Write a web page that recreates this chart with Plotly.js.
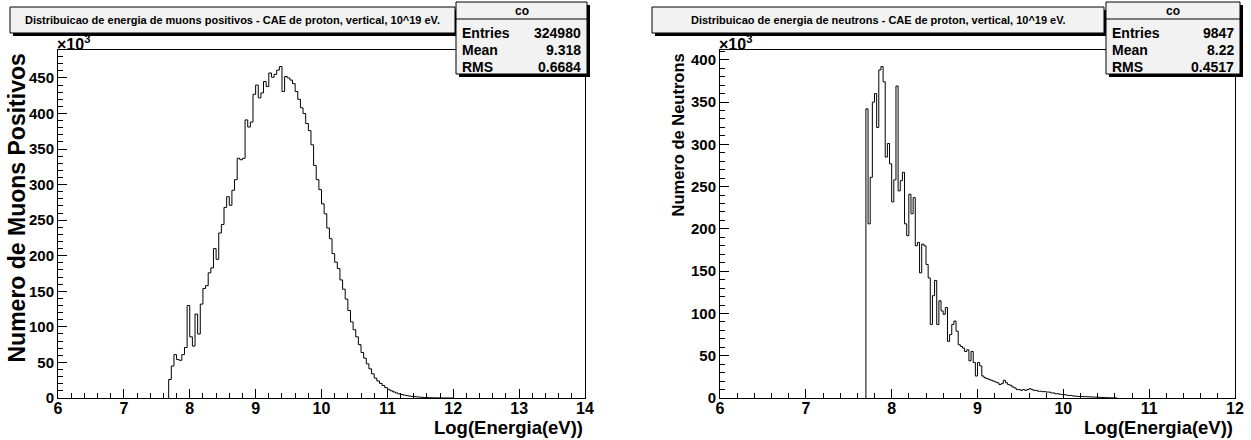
<!DOCTYPE html>
<html><head><meta charset="utf-8">
<script src="https://cdn.plot.ly/plotly-3.0.1.min.js"></script>
<style>html,body{margin:0;padding:0;background:#fff}#chart{width:1251px;height:440px}</style>
</head><body><div id="chart"></div>
<script>
// ---------- data ----------
const muonTitle = "Distribuicao de energia de muons positivos - CAE de proton, vertical, 10^19 eV.";
const neutronTitle = "Distribuicao de energia de neutrons - CAE de proton, vertical, 10^19 eV.";
const xTitle = "Log(Energia(eV))";
const muonYTitle = "Numero de Muons Positivos";
const neutronYTitle = "Numero de Neutrons";
const statsName = "co";
const statsLabels = ["Entries", "Mean", "RMS"];
const muonStats = ["324980", "9.318", "0.6684"];
const neutronStats = ["9847", "8.22", "0.4517"];

// muons: bins starting at 7.68, width 0.04 (values in units of 10^3)
const muonStart = 7.68;
const muonBinWidth = 0.04;
const muonCounts = [26,45,61,54,53,61,71,130,86,73,118,90,132,154,158,176,183,210,195,232,
  244,268,283,271,292,307,337,335,337,391,381,388,427,440,422,429,445,438,457,451,
  455,461,466,431,452,450,447,442,431,420,408,400,386,376,356,327,307,293,273,259,
  239,224,203,191,182,166,153,139,123,107,96,86,75,64,56,48,41,34,28,24,
  20.5,17.6,14.6,12.2,10.2,8.6,7.1,5.9,4.9,4.0,3.3,2.7,2.2,1.8,1.5,1.2,0.9,0.7,0.55,0.4,
  0.3,0.22,0.16,0.12,0.08,0.05,0.03,0.02];

// neutrons: bins starting at 7.70, width 0.025 (values in units of 10^3)
const neutronStart = 7.70;
const neutronBinWidth = 0.025;
const neutronCounts = [342,206,261,350,360,320,388,392,374,285,301,277,232,258,369,245,257,267,206,192,
  241,218,237,180,184,148,182,180,158,142,87,121,139,87,115,103,99,107,67,75,
  87,91,79,63,61,59,55,57,44,55,42,26,42,38,26,24,23,22,21,20,
  19,18,16,17,21,18,16,15,13,12,10,10,9,10,9,10,11,10,9,9,
  8,8,7.5,7.5,7,7,6,6,5,5,4.5,4,4,3.5,3,3,2.5,2.2,2,1.8,
  1.8,1.6,1.6,1.4,1.3,1.2,1.1,1,0.8,0.8,0.6,0.5,0.4,0.3,0.2,0.15,0.1];

const muonXRange = [6, 14];
const neutronXRange = [6, 12];

// ---------- helpers ----------
function steps(start, width, counts) {
  const x = [start], y = [0];
  for (let i = 0; i < counts.length; i++) {
    x.push(+(start + i * width).toFixed(4)); y.push(counts[i]);
  }
  const end = +(start + counts.length * width).toFixed(4);
  x.push(end); y.push(counts[counts.length - 1]);
  x.push(end); y.push(0);
  return {x, y};
}
const W = 1251, H = 440;
const px = v => v / W, py = v => 1 - v / H;
const FONT = "Liberation Sans, Arial, Helvetica, sans-serif";
const bold = (size) => ({family: FONT, size: size, color: '#000', weight: 'bold'});

const muonStep = steps(muonStart, muonBinWidth, muonCounts);
const neutronStep = steps(neutronStart, neutronBinWidth, neutronCounts);
const muonYMax = Math.max(...muonCounts) * 1.05;
const neutronYMax = Math.max(...neutronCounts) * 1.05;

const traces = [
  {type: 'scatter', mode: 'lines', x: muonStep.x, y: muonStep.y, xaxis: 'x', yaxis: 'y',
   line: {shape: 'hv', color: '#000', width: 1}, hoverinfo: 'skip', showlegend: false},
  {type: 'scatter', mode: 'lines', x: neutronStep.x, y: neutronStep.y, xaxis: 'x2', yaxis: 'y2',
   line: {shape: 'hv', color: '#000', width: 1}, hoverinfo: 'skip', showlegend: false}
];

function axis(extra) {
  return Object.assign({
    showline: true, linecolor: '#000', linewidth: 1, mirror: true,
    ticks: 'inside', ticklen: 9, tickcolor: '#000', tickwidth: 1,
    showgrid: false, zeroline: false, fixedrange: true,
    tickfont: bold(16)
  }, extra);
}
const minorX = {ticks: 'inside', ticklen: 5, dtick: 0.2, tickcolor: '#000', tickwidth: 1, showgrid: false};
const minorY = {ticks: 'inside', ticklen: 5, dtick: 10, tickcolor: '#000', tickwidth: 1, showgrid: false};

const frames = [
  {l: 58, r: 585, t: 50, b: 398},
  {l: 720, r: 1235, t: 50, b: 398}
];

const layout = {
  width: W, height: H, margin: {l: 0, r: 0, t: 0, b: 0},
  paper_bgcolor: '#fff', plot_bgcolor: '#fff', showlegend: false,
  xaxis: axis({domain: [px(frames[0].l), px(frames[0].r)], range: muonXRange, tick0: 6, dtick: 1, minor: minorX, anchor: 'y', ticklabelstandoff: -4}),
  yaxis: axis({domain: [py(frames[0].b), py(frames[0].t)], range: [0, muonYMax], tick0: 0, dtick: 50, minor: minorY, anchor: 'x', ticklabelstandoff: 0, tickfont: bold(15)}),
  xaxis2: axis({domain: [px(frames[1].l), px(frames[1].r)], range: neutronXRange, tick0: 6, dtick: 1, minor: minorX, anchor: 'y2', ticklabelstandoff: -4}),
  yaxis2: axis({domain: [py(frames[1].b), py(frames[1].t)], range: [0, neutronYMax], tick0: 0, dtick: 50, minor: minorY, anchor: 'x2', ticklabelstandoff: 0, tickfont: bold(15)}),
  shapes: [], annotations: []
};

function box(x0, y0, x1, y1, shadow) {
  if (shadow) layout.shapes.push({type: 'rect', xref: 'paper', yref: 'paper',
    x0: px(x0 + 3), x1: px(x1 + 3), y0: py(y1 + 3), y1: py(y0 + 3),
    fillcolor: '#000', line: {width: 0}});
  layout.shapes.push({type: 'rect', xref: 'paper', yref: 'paper',
    x0: px(x0), x1: px(x1), y0: py(y1), y1: py(y0),
    fillcolor: '#f2f2f2', line: {color: '#000', width: 1}});
}
function text(t, x, y, xanchor, size, extra) {
  layout.annotations.push(Object.assign({text: t, xref: 'paper', yref: 'paper', x: px(x), y: py(y),
    xanchor: xanchor, yanchor: 'middle', showarrow: false, font: bold(size)}, extra || {}));
}

const panels = [
  {title: muonTitle, ytitle: muonYTitle, ysize: 23, stats: muonStats, f: frames[0], tb: [10, 7, 455, 33], sb: [456, 2, 587, 74], ytx: 16},
  {title: neutronTitle, ytitle: neutronYTitle, ysize: 16.5, stats: neutronStats, f: frames[1], tb: [652, 7, 1104, 33], sb: [1106, 2, 1240, 74], ytx: 677}
];
panels.forEach(p => {
  box(p.tb[0], p.tb[1], p.tb[2], p.tb[3], true);
  text(p.title, (p.tb[0] + p.tb[2]) / 2, (p.tb[1] + p.tb[3]) / 2, 'center', 11);
  box(p.sb[0], p.sb[1], p.sb[2], p.sb[3], true);
  layout.shapes.push({type: 'line', xref: 'paper', yref: 'paper', x0: px(p.sb[0]), x1: px(p.sb[2]),
    y0: py(p.sb[1] + 17), y1: py(p.sb[1] + 17), line: {color: '#000', width: 1}});
  text(statsName, (p.sb[0] + p.sb[2]) / 2, p.sb[1] + 9, 'center', 12);
  statsLabels.forEach((lab, i) => {
    const yy = p.sb[1] + 31 + i * 17;
    text(lab, p.sb[0] + 4, yy, 'left', 14);
    text(p.stats[i], p.sb[2] - 4, yy, 'right', 14);
  });
  text('×10<sup>3</sup>', p.f.l - 3, 43, 'left', 16);
  text(xTitle, p.f.r, 427, 'right', 18.5);
  text(p.ytitle, p.ytx, p.f.t + 2, 'center', p.ysize, {textangle: -90, yanchor: 'top'});
});

Plotly.newPlot('chart', traces, layout, {staticPlot: true, displayModeBar: false});
</script>
</body></html>
